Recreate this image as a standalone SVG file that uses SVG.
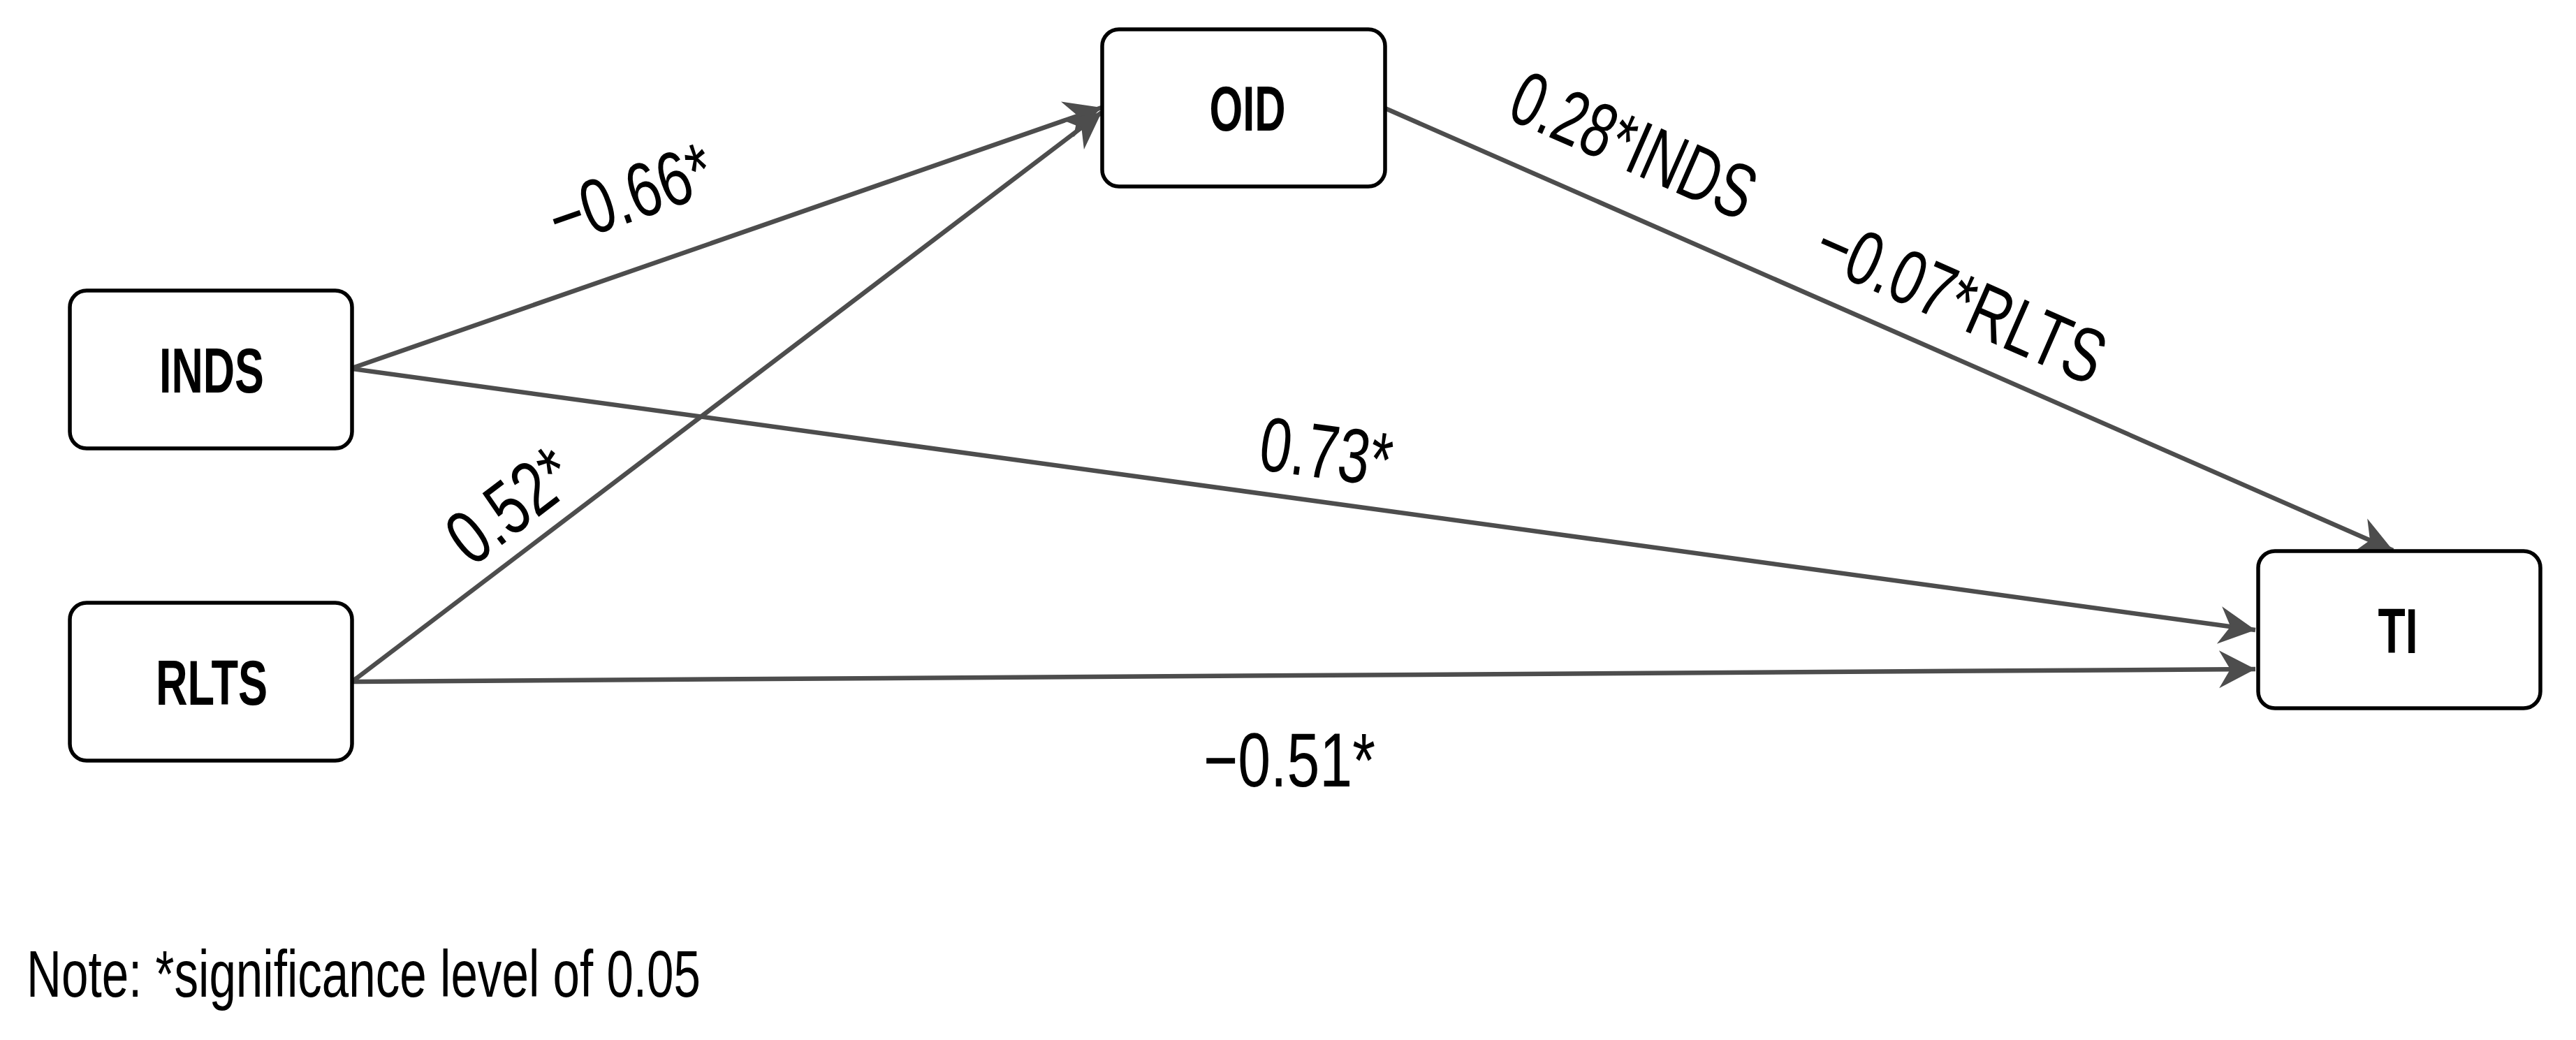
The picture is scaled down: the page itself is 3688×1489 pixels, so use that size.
<svg xmlns="http://www.w3.org/2000/svg" width="3688" height="1489" viewBox="0 0 3688 1489">
  <style>
    .box { fill: #ffffff; stroke: #000000; stroke-width: 5.5; }
    .node-label { font-family: "Liberation Sans", Arial, sans-serif; font-weight: bold; font-size: 90px; fill: #000000; text-anchor: middle; }
    .edge { fill: none; stroke: #4d4d4d; stroke-width: 6.5; marker-end: url(#arrow); }
    .edge-label { font-family: "Liberation Sans", Arial, sans-serif; font-size: 110px; fill: #000000; text-anchor: middle; }
    .note { font-family: "Liberation Sans", Arial, sans-serif; font-size: 94px; fill: #000000; }
  </style>
  <defs>
    <marker id="arrow" markerUnits="userSpaceOnUse" viewBox="-54 -30 56 60" refX="0" refY="0" markerWidth="56" markerHeight="60" orient="auto">
      <path d="M 0 0 L -52 -27 L -36 0 L -52 27 Z" fill="#4d4d4d"/>
    </marker>
  </defs>
  <rect width="3688" height="1489" fill="#ffffff"/>

  <g id="connectors">
    <line class="edge" x1="504" y1="527" x2="1577" y2="154"/>
    <line class="edge" x1="504" y1="976" x2="1577" y2="161"/>
    <line class="edge" x1="504" y1="528" x2="3229" y2="902"/>
    <line class="edge" x1="504" y1="976" x2="3229" y2="958"/>
    <line class="edge" x1="1983" y1="155" x2="3426" y2="788"/>
    <text class="edge-label" transform="translate(902,276) rotate(-19.2)" x="0" y="40" textLength="242" lengthAdjust="spacingAndGlyphs">−0.66*</text>
    <text class="edge-label" transform="translate(729,722) rotate(-37.3)" x="0" y="40" textLength="196" lengthAdjust="spacingAndGlyphs">0.52*</text>
    <text class="edge-label" transform="translate(1899,645) rotate(7.8)" x="0" y="40" textLength="190" lengthAdjust="spacingAndGlyphs">0.73*</text>
    <text class="edge-label" x="1846" y="1126" textLength="246" lengthAdjust="spacingAndGlyphs">−0.51*</text>
    <text class="edge-label" transform="translate(2340,206) rotate(23.65)" x="0" y="40" textLength="370" lengthAdjust="spacingAndGlyphs">0.28*INDS</text>
    <text class="edge-label" transform="translate(2808,428) rotate(23.65)" x="0" y="40" textLength="440" lengthAdjust="spacingAndGlyphs">−0.07*RLTS</text>
  </g>

  <g id="node-inds">
    <rect class="box" x="100" y="416" width="404" height="226" rx="24" ry="24"/>
    <text class="node-label" x="303" y="562" textLength="150" lengthAdjust="spacingAndGlyphs">INDS</text>
  </g>
  <g id="node-rlts">
    <rect class="box" x="100" y="863" width="404" height="226" rx="24" ry="24"/>
    <text class="node-label" x="303" y="1009" textLength="160" lengthAdjust="spacingAndGlyphs">RLTS</text>
  </g>
  <g id="node-oid">
    <rect class="box" x="1578" y="42" width="405" height="225" rx="24" ry="24"/>
    <text class="node-label" x="1786" y="187" textLength="109" lengthAdjust="spacingAndGlyphs">OID</text>
  </g>
  <g id="node-ti">
    <rect class="box" x="3233" y="789" width="404" height="225" rx="24" ry="24"/>
    <text class="node-label" x="3433" y="935" textLength="57" lengthAdjust="spacingAndGlyphs">TI</text>
  </g>

  <text class="note" x="38" y="1427" textLength="965" lengthAdjust="spacingAndGlyphs">Note: *significance level of 0.05</text>
</svg>
